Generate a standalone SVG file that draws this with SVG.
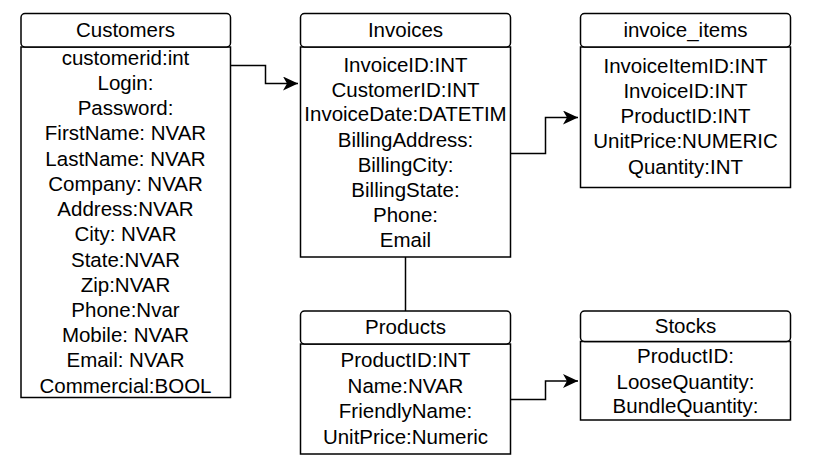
<svg xmlns="http://www.w3.org/2000/svg" width="822" height="468" viewBox="0 0 822 468">
<style>
.hd{fill:#fff;stroke:#000;stroke-width:1.5}
.bd{fill:#fff;stroke:#000;stroke-width:1.5}
text{font-family:"Liberation Sans",Arial,sans-serif;font-size:20.5px;fill:#000;text-anchor:middle;dominant-baseline:central}
.edge{fill:none;stroke:#000;stroke-width:1.5}
</style>
<defs>
<marker id="arr" markerWidth="16" markerHeight="14" viewBox="0 0 16 14" refX="15" refY="7" orient="auto" markerUnits="userSpaceOnUse">
<path d="M0,0 L15,7 L0,14 L4,7 Z" fill="#000"/>
</marker>
</defs>
<rect width="822" height="468" fill="#fff"/>
<g id="connectors">
<path class="edge" d="M231,65.5 H265.5 V83.5 H298" marker-end="url(#arr)"/>
<path class="edge" d="M511,153.5 H545.5 V117.5 H578" marker-end="url(#arr)"/>
<path class="edge" d="M405.5,257 V311"/>
<path class="edge" d="M511,399.5 H545.5 V381 H578" marker-end="url(#arr)"/>
</g>
<g id="customers">
<rect class="bd" x="21" y="47" width="209.5" height="350.5"/>
<rect class="hd" x="21" y="13.5" width="209.5" height="33.5" rx="4"/>
<text x="125.5" y="29.5">Customers</text>
<text x="125.5" y="57">customerid:int</text>
<text x="125.5" y="82">Login:</text>
<text x="125.5" y="107.5">Password:</text>
<text x="125.5" y="132.5">FirstName: NVAR</text>
<text x="125.5" y="158">LastName: NVAR</text>
<text x="125.5" y="183">Company: NVAR</text>
<text x="125.5" y="208.5">Address:NVAR</text>
<text x="125.5" y="233.5">City: NVAR</text>
<text x="125.5" y="259">State:NVAR</text>
<text x="125.5" y="284">Zip:NVAR</text>
<text x="125.5" y="309">Phone:Nvar</text>
<text x="125.5" y="334.5">Mobile: NVAR</text>
<text x="125.5" y="359.5">Email: NVAR</text>
<text x="125.5" y="385">Commercial:BOOL</text>
</g>
<g id="invoices">
<rect class="bd" x="300.5" y="47" width="210" height="210"/>
<rect class="hd" x="300.5" y="13.5" width="210" height="33.5" rx="4"/>
<text x="405.5" y="29.5">Invoices</text>
<text x="405.5" y="64">InvoiceID:INT</text>
<text x="405.5" y="89">CustomerID:INT</text>
<text x="405.5" y="113.5">InvoiceDate:DATETIM</text>
<text x="405.5" y="139">BillingAddress:</text>
<text x="405.5" y="164">BillingCity:</text>
<text x="405.5" y="189">BillingState:</text>
<text x="405.5" y="214">Phone:</text>
<text x="405.5" y="239">Email</text>
</g>
<g id="invoice_items">
<rect class="bd" x="580.5" y="47" width="210" height="140.5"/>
<rect class="hd" x="580.5" y="13.5" width="210" height="33.5" rx="4"/>
<text x="685.5" y="29.5">invoice_items</text>
<text x="685.5" y="65">InvoiceItemID:INT</text>
<text x="685.5" y="90">InvoiceID:INT</text>
<text x="685.5" y="115">ProductID:INT</text>
<text x="685.5" y="140">UnitPrice:NUMERIC</text>
<text x="685.5" y="166">Quantity:INT</text>
</g>
<g id="products">
<rect class="bd" x="300.5" y="344" width="210" height="110"/>
<rect class="hd" x="300.5" y="311" width="210" height="33" rx="4"/>
<text x="405.5" y="326">Products</text>
<text x="405.5" y="359">ProductID:INT</text>
<text x="405.5" y="385.5">Name:NVAR</text>
<text x="405.5" y="410.5">FriendlyName:</text>
<text x="405.5" y="436.5">UnitPrice:Numeric</text>
</g>
<g id="stocks">
<rect class="bd" x="580.5" y="341.5" width="210" height="78.5"/>
<rect class="hd" x="580.5" y="311" width="210" height="30.5" rx="4"/>
<text x="685.5" y="325">Stocks</text>
<text x="685.5" y="355">ProductID:</text>
<text x="685.5" y="381">LooseQuantity:</text>
<text x="685.5" y="405">BundleQuantity:</text>
</g>
</svg>
